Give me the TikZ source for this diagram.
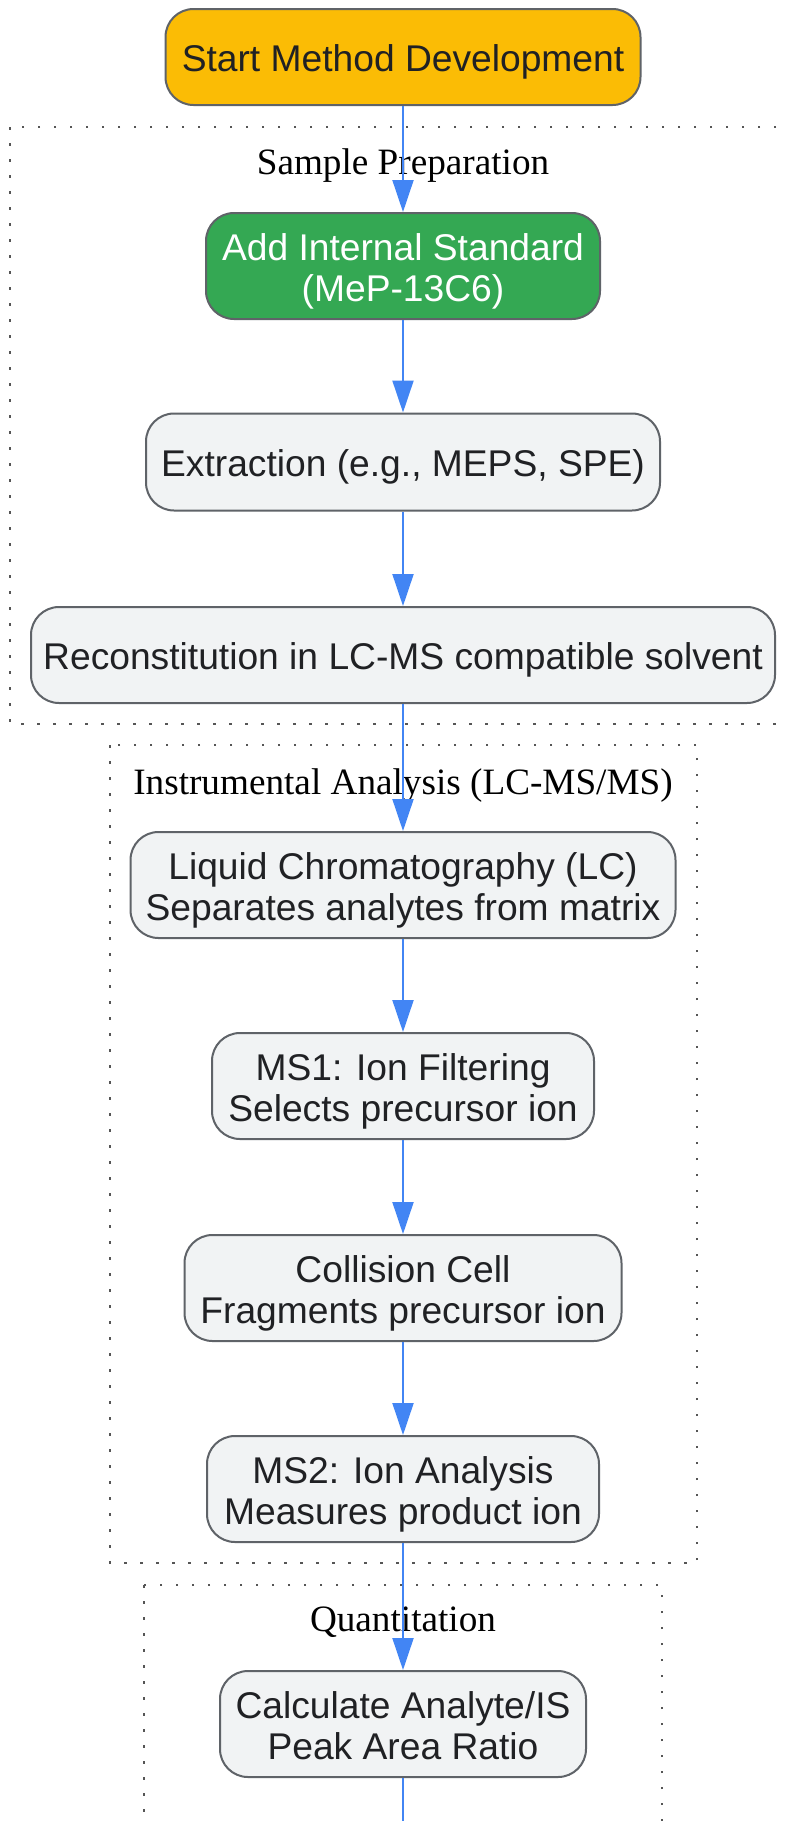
\documentclass[tikz,border=0pt]{standalone}
\usepackage{fontspec}
\setmainfont{Liberation Sans}
\newfontfamily\titlefont{Liberation Serif}
\usetikzlibrary{arrows.meta}
\definecolor{flowblue}{HTML}{4285F4}
\definecolor{startyellow}{HTML}{FBBC05}
\definecolor{isgreen}{HTML}{34A853}
\definecolor{boxgray}{HTML}{F1F3F4}
\definecolor{edgegray}{HTML}{5F6368}
\definecolor{textdark}{HTML}{202124}
\definecolor{dotgray}{HTML}{555555}
\begin{document}
\begin{tikzpicture}[x=1pt,y=-1pt,
  box/.style={draw=edgegray, line width=2pt, rounded corners=28pt, fill=boxgray, text=textdark, align=center, inner sep=0pt, font=\fontsize{37.2}{41.8}\selectfont,
    execute at begin node={\rule{0pt}{37pt}},
    execute at end node={\rule[-7.8pt]{0pt}{7.8pt}}},
  twoline/.style={execute at begin node={\rule{0pt}{79.5pt}}},
  flow/.style={draw=flowblue, line width=2pt, -{Triangle[length=32pt,width=21pt]}},
  cluster/.style={draw=dotgray, line width=2.5pt, dash pattern=on 2.5pt off 13.5pt},
  ctitle/.style={font=\titlefont\fontsize{37.2}{41.8}\selectfont, text=black, inner sep=0pt}
]
\useasboundingbox (0,0) rectangle (789,1821);
\clip (0,0) rectangle (789,1821);
\fill[white] (0,0) rectangle (789,1821);

% clusters
\draw[cluster] (10,127) rectangle (820,724);
\draw[cluster] (110,745) rectangle (697,1563);
\draw[cluster] (144,1585) rectangle (662,1900);
\node[ctitle] (tprep) at (403,165.5) {Sample Preparation};
\node[ctitle] (tinst) at (403,785.5) {Instrumental Analysis (LC-MS/MS)};
\node[ctitle] (tquant) at (403,1622.5) {Quantitation};

% nodes
\node[box, fill=startyellow, minimum width=475pt, minimum height=96pt] (start) at (403,57) {Start Method Development};
\node[box, twoline, fill=isgreen, text=white, minimum width=394pt, minimum height=106pt] (is) at (403,266) {Add Internal Standard\\(MeP-13C6)};
\node[box, minimum width=514pt, minimum height=97pt] (ext) at (403,462) {Extraction (e.g., MEPS, SPE)};
\node[box, minimum width=744pt, minimum height=96pt] (rec) at (403,655) {Reconstitution in LC-MS compatible solvent};
\node[box, twoline, minimum width=545pt, minimum height=106pt] (lc) at (403,885) {Liquid Chromatography (LC)\\Separates analytes from matrix};
\node[box, twoline, minimum width=382pt, minimum height=106pt] (ms1) at (403,1086) {MS1: Ion Filtering\\Selects precursor ion};
\node[box, twoline, minimum width=437pt, minimum height=106pt] (cc) at (403,1288) {Collision Cell\\Fragments precursor ion};
\node[box, twoline, minimum width=392pt, minimum height=106pt] (ms2) at (403,1489) {MS2: Ion Analysis\\Measures product ion};
\node[box, twoline, minimum width=366pt, minimum height=106pt] (calc) at (403,1724) {Calculate Analyte/IS\\Peak Area Ratio};
\coordinate (next) at (403,1900);

% connectors
\draw[flow] (start) -- (is);
\draw[flow] (is) -- (ext);
\draw[flow] (ext) -- (rec);
\draw[flow] (rec) -- (lc);
\draw[flow] (lc) -- (ms1);
\draw[flow] (ms1) -- (cc);
\draw[flow] (cc) -- (ms2);
\draw[flow] (ms2) -- (calc);
\draw[flow] (calc) -- (next);
\end{tikzpicture}
\end{document}
